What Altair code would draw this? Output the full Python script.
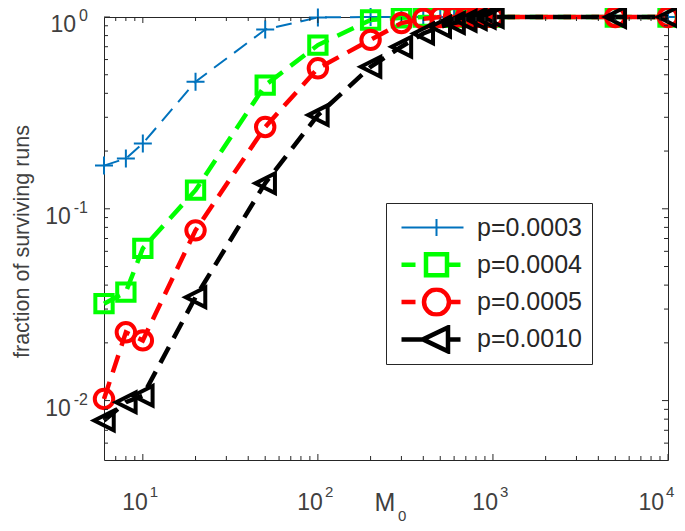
import altair as alt
import pandas as pd

# ---------------- data ----------------
M0 = [6, 8, 10, 20, 50, 100, 200, 300, 400, 500, 600, 700, 800, 900, 1000, 5000, 10000]
p0003 = [0.168, 0.183, 0.219, 0.46, 0.86, 0.995, 1, 1, 1, 1, 1, 1, 1, 1, 1, 1, 1]
p0004 = [0.032, 0.0368, 0.0622, 0.125, 0.441, 0.714, 0.965, 0.99, 1, 1, 1, 1, 1, 1, 1, 1, 1]
p0005 = [0.0102, 0.0227, 0.0206, 0.0772, 0.267, 0.54, 0.76, 0.93, 0.98, 1, 1, 1, 1, 1, 1, 1, 1]
p0010 = [0.00787, 0.0098, 0.0106, 0.0346, 0.136, 0.308, 0.55, 0.70, 0.82, 0.89, 0.93,
         0.955, 0.975, 0.99, 1, 1, 1]
series_labels = ["p=0.0003", "p=0.0004", "p=0.0005", "p=0.0010"]
series_values = [p0003, p0004, p0005, p0010]

x_tick_values = [10, 100, 1000, 10000]
x_tick_exps = ["1", "2", "3", "4"]
y_tick_values = [1, 0.1, 0.01]
y_tick_exps = ["0", "-1", "-2"]
y_title = "fraction of surviving runs"
x_title_main = "M"
x_title_sub = "0"

# ---------------- styling ----------------
W, H = 564, 443
FONT = "Liberation Sans"
TXT = "#404040"
AX = "#262626"
colors = ["#0072BD", "#00FF00", "#FF0000", "#000000"]
line_widths = [2, 4.5, 4.5, 4.5]
dashes = [[16, 9], [18, 10], [18, 10], [18, 10]]
marker_paths = [
    "M-1,0L1,0M0,-1L0,1",
    "square",
    "circle",
    "M-1,0L1,-1L1,1Z",
]
marker_sizes = [324, 300, 340, 380]
marker_strokes = [2, 4, 4, 4]
legend_paths = [
    "M-3.5,0L2.7,0M0,-0.85L0,0.85",
    "M-3.5,0L-2.1,0M-1.05,-1.05L1.05,-1.05L1.05,1.05L-1.05,1.05ZM1.05,0L2.4,0",
    "M-3.5,0L-2.1,0M1.25,0A1.25,1.25,0,1,1,-1.25,0A1.25,1.25,0,1,1,1.25,0ZM1.25,0L2.4,0",
    "M-3.5,0L-1.35,0M-1.35,0L1.15,-1.2L1.15,1.2ZM1.15,0L2.4,0",
]

xs = alt.Scale(type="log", domain=[6, 10000], nice=False)
ys = alt.Scale(type="log", domain=[0.0049, 1], nice=False)

layers = []

# series: lines then markers (drawn in order, black on top)
for lab, vals, c, lw, d, mp, ms, mw in zip(series_labels, series_values, colors, line_widths,
                                          dashes, marker_paths, marker_sizes, marker_strokes):
    df = pd.DataFrame({"M0": M0, "frac": vals, "series": lab})
    base = alt.Chart(df).encode(
        x=alt.X("M0:Q", scale=xs, axis=None),
        y=alt.Y("frac:Q", scale=ys, axis=None),
    )
    layers.append(base.mark_line(color=c, strokeWidth=lw, strokeDash=d, strokeCap="butt").encode(order="M0:Q"))
    layers.append(base.mark_point(shape=mp, size=ms, filled=False, color=c, strokeWidth=mw, opacity=1))

# legend driver (no visible marks)
LEG = dict(title=None, orient="none", legendX=282, legendY=186,
           labelExpr="datum.label + '\u00a0\u2009'")
leg_df = pd.DataFrame({"M0": [M0[0]] * 4, "frac": [s[0] for s in series_values], "series": series_labels})
legend_layer = alt.Chart(leg_df).transform_filter("false").mark_point(filled=False, opacity=1).encode(
    x=alt.X("M0:Q", scale=xs, axis=None),
    y=alt.Y("frac:Q", scale=ys, axis=None),
    color=alt.Color("series:N", scale=alt.Scale(domain=series_labels, range=colors),
                    legend=alt.Legend(**LEG)),
    shape=alt.Shape("series:N", scale=alt.Scale(domain=series_labels, range=legend_paths),
                    legend=alt.Legend(**LEG)),
    strokeWidth=alt.StrokeWidth("series:N", scale=alt.Scale(type="ordinal", domain=series_labels,
                                                            range=[2, 4.5, 4.5, 4.5]),
                                legend=alt.Legend(**LEG)),
)
layers.append(legend_layer)

# inward ticks on all four sides
x_minor = [m * 10 ** e for e in range(0, 4) for m in range(2, 10) if 6 < m * 10 ** e < 10000]
y_minor = [m * 10.0 ** e for e in (-3, -2, -1) for m in range(2, 10) if 0.0052 < m * 10.0 ** e < 1]
for vals, L in ((x_tick_values, 6), (x_minor, 4)):
    tdf = pd.DataFrame({"v": vals})
    tx = alt.Chart(tdf).mark_rule(color=AX, strokeWidth=1).encode(x=alt.X("v:Q", scale=xs, axis=None))
    layers.append(tx.encode(y=alt.value(H), y2=alt.value(H - L)))
    layers.append(tx.encode(y=alt.value(0), y2=alt.value(L)))
for vals, L in ((y_tick_values, 6), (y_minor, 4)):
    tdf = pd.DataFrame({"v": vals})
    ty = alt.Chart(tdf).mark_rule(color=AX, strokeWidth=1).encode(y=alt.Y("v:Q", scale=ys, axis=None))
    layers.append(ty.encode(x=alt.value(0), x2=alt.value(L)))
    layers.append(ty.encode(x=alt.value(W), x2=alt.value(W - L)))

# x tick labels: "10" + superscript exponent (last one nudged to stay inside the page)
for i, (v, e) in enumerate(zip(x_tick_values, x_tick_exps)):
    shift = -9 if i == len(x_tick_values) - 1 else 0
    xl = pd.DataFrame({"v": [v], "base": ["10"], "exp": [e]})
    layers.append(alt.Chart(xl).mark_text(align="right", baseline="alphabetic", dx=5 + shift, font=FONT,
                                          fontSize=23, color=TXT).encode(
        x=alt.X("v:Q", scale=xs, axis=None), y=alt.value(H + 50), text="base:N"))
    layers.append(alt.Chart(xl).mark_text(align="left", baseline="alphabetic", dx=7 + shift, font=FONT,
                                          fontSize=15, color=TXT).encode(
        x=alt.X("v:Q", scale=xs, axis=None), y=alt.value(H + 37), text="exp:N"))

# y tick labels
for v, e in zip(y_tick_values, y_tick_exps):
    ew = 0.556 * 16 * sum(ch.isdigit() for ch in e) + 0.333 * 16 * e.count("-")
    yl = pd.DataFrame({"v": [v], "base": ["10"], "exp": [e]})
    layers.append(alt.Chart(yl).mark_text(align="right", baseline="alphabetic", dy=15, font=FONT,
                                          fontSize=23, color=TXT).encode(
        y=alt.Y("v:Q", scale=ys, axis=None), x=alt.value(-16 - ew - 3), text="base:N"))
    layers.append(alt.Chart(yl).mark_text(align="right", baseline="alphabetic", dy=4, font=FONT,
                                          fontSize=16, color=TXT).encode(
        y=alt.Y("v:Q", scale=ys, axis=None), x=alt.value(-16), text="exp:N"))

# axis titles
layers.append(alt.Chart(pd.DataFrame({"t": [y_title]})).mark_text(
    angle=270, align="center", baseline="alphabetic", font=FONT, fontSize=21.5, color=TXT).encode(
    x=alt.value(-75), y=alt.value(H / 2 + 3), text="t:N"))
layers.append(alt.Chart(pd.DataFrame({"t": [x_title_main]})).mark_text(
    align="left", baseline="alphabetic", font=FONT, fontSize=25, color=TXT).encode(
    x=alt.value(270.5), y=alt.value(494), text="t:N"))
layers.append(alt.Chart(pd.DataFrame({"t": [x_title_sub]})).mark_text(
    align="left", baseline="alphabetic", font=FONT, fontSize=15, color=TXT).encode(
    x=alt.value(294), y=alt.value(504), text="t:N"))

chart = alt.layer(*layers).properties(
    width=W, height=H,
    autosize=alt.AutoSizeParams(type="none"),
    padding={"left": 96, "top": 9, "right": 9, "bottom": 63},
).configure_view(
    stroke=AX, strokeWidth=1,
).configure_legend(
    strokeColor=AX, fillColor="white", padding=10, cornerRadius=0,
    labelFont=FONT, labelFontSize=25, labelColor="#262626",
    symbolSize=400, symbolOffset=28, labelOffset=28, rowPadding=8.3, clipHeight=29,
    symbolFillColor="transparent", labelLimit=300,
)

chart.save("out.html", embed_options={"renderer": "svg", "actions": False})
